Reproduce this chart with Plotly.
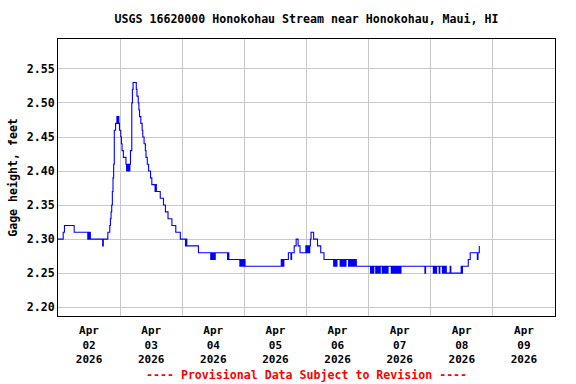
import plotly.graph_objects as go

# Gage height readings (feet), as (local time, value) change points per day
apr02 = [("00:00", 2.30), ("02:00", 2.31), ("02:30", 2.32), ("06:15", 2.31),
         ("11:30", 2.30), ("11:45", 2.31), ("12:00", 2.30), ("12:15", 2.31), ("12:30", 2.30),
         ("17:15", 2.29), ("17:30", 2.30),
         ("19:15", 2.31), ("20:00", 2.32), ("20:15", 2.33), ("20:30", 2.34), ("20:45", 2.35),
         ("21:00", 2.37), ("21:15", 2.39), ("21:30", 2.41), ("21:45", 2.46), ("22:15", 2.47),
         ("22:45", 2.48), ("23:00", 2.47), ("23:15", 2.48), ("23:30", 2.47), ("23:45", 2.46)]
apr03 = [("00:15", 2.45), ("00:30", 2.44), ("00:45", 2.43), ("01:15", 2.42), ("02:15", 2.41),
         ("02:30", 2.40), ("02:45", 2.41), ("03:00", 2.40), ("03:15", 2.41), ("03:30", 2.40), ("03:45", 2.41),
         ("04:00", 2.43), ("04:30", 2.50), ("04:45", 2.52), ("05:00", 2.53), ("06:15", 2.52),
         ("06:30", 2.51), ("07:00", 2.50), ("07:15", 2.49), ("07:30", 2.48), ("08:00", 2.47),
         ("08:30", 2.46), ("08:45", 2.45), ("09:15", 2.44), ("09:45", 2.43), ("10:00", 2.42),
         ("10:30", 2.41), ("11:00", 2.40), ("11:45", 2.39), ("12:15", 2.38),
         ("13:30", 2.37), ("13:45", 2.38), ("14:00", 2.37),
         ("15:30", 2.36), ("16:45", 2.35), ("17:30", 2.34), ("18:30", 2.33), ("20:00", 2.32),
         ("21:30", 2.31), ("23:15", 2.30)]
apr04 = [("01:15", 2.29), ("01:30", 2.30), ("01:45", 2.29), ("06:15", 2.28),
         ("11:00", 2.27), ("11:15", 2.28), ("11:30", 2.27), ("11:45", 2.28), ("12:00", 2.27),
         ("12:15", 2.28), ("12:30", 2.27), ("12:45", 2.28),
         ("17:30", 2.27), ("17:45", 2.28), ("18:00", 2.27),
         ("22:15", 2.26), ("22:30", 2.27), ("22:45", 2.26), ("23:00", 2.27), ("23:15", 2.26),
         ("23:30", 2.27), ("23:45", 2.26)]
apr05 = [("00:00", 2.27), ("00:15", 2.26),
         ("14:15", 2.27), ("14:30", 2.26), ("14:45", 2.27), ("15:00", 2.26), ("15:15", 2.27),
         ("17:00", 2.28), ("18:00", 2.27), ("18:15", 2.28),
         ("19:15", 2.29), ("20:00", 2.30), ("20:45", 2.29), ("21:30", 2.28),
         ("23:45", 2.29)]
apr06 = [("00:00", 2.28), ("00:15", 2.29), ("00:30", 2.28), ("00:45", 2.29), ("01:00", 2.28),
         ("01:15", 2.29), ("01:30", 2.30), ("01:45", 2.31), ("02:45", 2.30), ("04:15", 2.29),
         ("05:30", 2.28), ("06:45", 2.27),
         ("10:30", 2.26), ("10:45", 2.27), ("11:00", 2.26), ("11:15", 2.27), ("11:30", 2.26), ("11:45", 2.27),
         ("13:00", 2.26), ("13:15", 2.27), ("13:30", 2.26), ("13:45", 2.27), ("14:00", 2.26),
         ("14:15", 2.27), ("14:30", 2.26), ("14:45", 2.27), ("15:00", 2.26), ("15:15", 2.27),
         ("16:15", 2.26), ("16:30", 2.27), ("16:45", 2.26), ("17:00", 2.27), ("17:15", 2.26),
         ("17:30", 2.27), ("17:45", 2.26), ("18:00", 2.27), ("18:15", 2.26), ("18:30", 2.27),
         ("18:45", 2.26), ("19:00", 2.27), ("19:15", 2.26)]
apr07 = [("00:45", 2.25), ("01:00", 2.26), ("01:15", 2.25), ("01:30", 2.26), ("01:45", 2.25), ("02:00", 2.26),
         ("02:45", 2.25), ("03:00", 2.26), ("03:15", 2.25), ("03:30", 2.26), ("03:45", 2.25),
         ("04:00", 2.26), ("04:15", 2.25), ("04:30", 2.26),
         ("05:15", 2.25), ("05:30", 2.26), ("05:45", 2.25), ("06:00", 2.26), ("06:15", 2.25),
         ("06:30", 2.26), ("06:45", 2.25), ("07:00", 2.26), ("07:15", 2.25), ("07:30", 2.26),
         ("08:45", 2.25), ("09:00", 2.26), ("09:15", 2.25),
         ("09:30", 2.26), ("09:45", 2.25), ("10:00", 2.26),
         ("10:15", 2.25), ("10:30", 2.26), ("10:45", 2.25), ("11:00", 2.26), ("11:15", 2.25),
         ("11:30", 2.26), ("11:45", 2.25), ("12:00", 2.26), ("12:15", 2.25), ("12:30", 2.26),
         ("21:45", 2.25), ("22:00", 2.26)]
apr08 = [("01:00", 2.25), ("01:15", 2.26), ("01:30", 2.25), ("01:45", 2.26), ("02:00", 2.25), ("02:15", 2.26),
         ("03:15", 2.25), ("03:30", 2.26),
         ("04:30", 2.25), ("04:45", 2.26), ("05:00", 2.25), ("05:15", 2.26), ("05:30", 2.25),
         ("05:45", 2.26), ("06:00", 2.25),
         ("07:30", 2.26), ("07:45", 2.25),
         ("11:45", 2.26), ("12:00", 2.25), ("12:15", 2.26), ("14:30", 2.27), ("15:15", 2.28),
         ("18:00", 2.27), ("18:15", 2.28), ("18:45", 2.29)]

days = {"02": apr02, "03": apr03, "04": apr04, "05": apr05, "06": apr06, "07": apr07, "08": apr08}

title_text = "USGS 16620000 Honokohau Stream near Honokohau, Maui, HI"
y_title = "Gage height, feet"
footer = "---- Provisional Data Subject to Revision ----"

times, values = [], []
for dd, rows in days.items():
    for hm, v in rows:
        times.append(f"2026-04-{dd} {hm}")
        values.append(v)

FONT = "DejaVu Sans Mono"
fnt = dict(family=FONT, size=11.6, color="black", weight="bold")
xfnt = dict(family=FONT, size=11, color="black", weight="bold")

fig = go.Figure()
fig.add_trace(go.Scatter(x=times, y=values, mode="lines", line=dict(color="#0000ff", width=1.1, shape="hv"),
                         hoverinfo="skip", showlegend=False))

fig.update_layout(
    width=576, height=384,
    margin=dict(l=58, r=21, t=39, b=68, autoexpand=False),
    paper_bgcolor="white", plot_bgcolor="white",
    title=dict(text=title_text, font=fnt, x=0.5, xref="paper", y=1 - 19 / 384, yref="container",
               xanchor="center", yanchor="middle"),
    font=fnt,
    xaxis=dict(type="date", range=["2026-04-02 00:00", "2026-04-10 00:00"], dtick=86400000,
               tick0="2026-04-02", ticklabelmode="period", tickformat="%b<br>%d<br>%Y",
               showgrid=True, gridcolor="#c8c8c8", gridwidth=1, showline=True, mirror=True,
               linecolor="black", linewidth=1, ticks="", zeroline=False, tickfont=xfnt,
               automargin=False, ticklabelstandoff=4),
    yaxis=dict(range=[2.187, 2.594], dtick=0.05, tick0=2.2, tickformat=".2f",
               showgrid=True, gridcolor="#c8c8c8", gridwidth=1, showline=True, mirror=True,
               linecolor="black", linewidth=1, ticks="", zeroline=False, tickfont=fnt,
               automargin=False, title=dict(text=y_title, font=fnt, standoff=6)),
    annotations=[dict(text=footer, xref="paper", yref="paper", x=0.5, y=(316 - 375) / 277,
                      xanchor="center", yanchor="middle", showarrow=False,
                      font=dict(family=FONT, size=11.6, color="#ff0000", weight="bold"))],
)

fig.write_html("out.html", config={"displayModeBar": False},
               post_script="document.body.style.margin='0';document.body.style.overflow='hidden';")
